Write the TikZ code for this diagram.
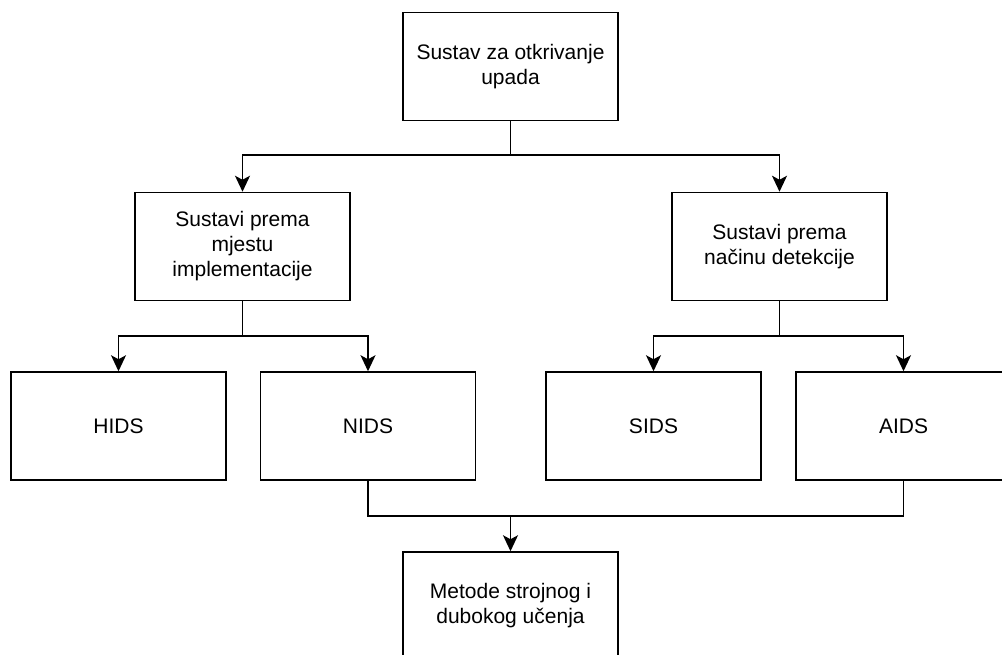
\documentclass[tikz,border=0pt]{standalone}
\usepackage{fontspec}
\setmainfont{Liberation Sans}
\usetikzlibrary{arrows.meta}
\tikzset {>={Stealth[length=16pt,width=15pt,inset=4pt]}}
\tikzset {blok/.style={draw,line width=1.5pt,minimum width=215pt,minimum height=108pt,align=center,font=\fontsize{21}{25}\selectfont,inner sep=0pt}}

\begin{document}
\begin{tikzpicture}[x=1pt,y=-1pt,line width=1.5pt]
\useasboundingbox (0,0) rectangle (1002,655);
\clip (0,0) rectangle (1002,655);
\node[blok] (ids) at (510.5,66.5) {Sustav za otkrivanje\\upada};
\node[blok] (mjesto) at (242.5,246.5) {Sustavi prema\\mjestu\\implementacije};
\node[blok] (nacin) at (779.5,246.5) {Sustavi prema\\načinu detekcije};
\node[blok] (hids) at (118.5,426) {HIDS};
\node[blok] (nids) at (368,426) {NIDS};
\node[blok] (sids) at (653.5,426) {SIDS};
\node[blok] (aids) at (903.5,426) {AIDS};
\node[blok] (metode) at (510.5,606) {Metode strojnog i\\dubokog učenja};
\coordinate (s1) at (510.5,155);
\coordinate (s2) at (242.5,336);
\coordinate (s3) at (779.5,336);
\coordinate (s4) at (510.5,516);
\draw[->] (ids.south) -- (s1) -| (mjesto.north);
\draw[->] (ids.south) -- (s1) -| (nacin.north);
\draw[->] (mjesto.south) -- (s2) -| (hids.north);
\draw[->] (mjesto.south) -- (s2) -| (nids.north);
\draw[->] (nacin.south) -- (s3) -| (sids.north);
\draw[->] (nacin.south) -- (s3) -| (aids.north);
\draw (nids.south) |- (s4);
\draw (aids.south) |- (s4);
\draw[->] (s4) -- (metode.north);
\end{tikzpicture}
\end{document}
